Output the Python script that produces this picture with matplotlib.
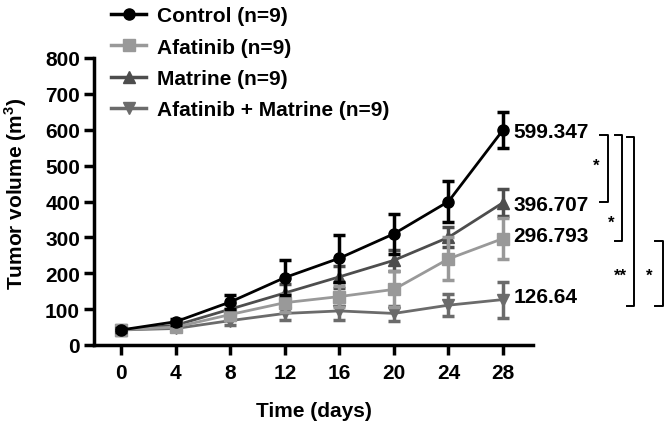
import matplotlib
matplotlib.use('Agg')
import matplotlib.pyplot as plt
import numpy as np

plt.rcParams['font.family'] = ['Liberation Sans', 'DejaVu Sans']
plt.rcParams['font.weight'] = 'bold'
plt.rcParams['mathtext.fontset'] = 'custom'
plt.rcParams['mathtext.bf'] = 'Liberation Sans:bold'
plt.rcParams['mathtext.rm'] = 'Liberation Sans:bold'

# data
days = [0, 4, 8, 12, 16, 20, 24, 28]

control = [42, 65, 120, 188, 242, 310, 400, 599.347]
control_err = [5, 8, 20, 50, 65, 55, 57, 50]

afatinib = [42, 50, 85, 118, 135, 155, 240, 296.793]
afatinib_err = [5, 6, 15, 25, 30, 50, 60, 58]

matrine = [42, 55, 100, 145, 190, 236, 300, 396.707]
matrine_err = [5, 6, 15, 25, 30, 30, 28, 38]

combo = [42, 46, 68, 88, 95, 88, 111, 126.64]
combo_err = [5, 6, 12, 18, 25, 22, 30, 50]

labels = ['Control (n=9)', 'Afatinib (n=9)', 'Matrine (n=9)', 'Afatinib + Matrine (n=9)']
colors = ['#000000', '#999999', '#4d4d4d', '#6b6b6b']
markers = ['o', 's', '^', 'v']

end_labels = ['599.347', '396.707', '296.793', '126.64']
end_label_y = [596, 393, 304, 136]

# brackets: (x of vertical in days, tick length, y top, y bottom)
brackets = [(35.7, 0.6, 585, 400), (36.7, 0.5, 585, 290), (37.6, 0.5, 579, 109), (39.7, 0.55, 290, 109)]
stars = [('*', 34.85, 500), ('*', 35.96, 342), ('**', 36.6, 195), ('*', 38.75, 195)]

fig = plt.figure(figsize=(6.7, 4.27), dpi=100)
ax = fig.add_axes([94 / 670, 1 - 346 / 427, (533 - 94) / 670, (346 - 59) / 427])

series = [control, afatinib, matrine, combo]
errs = [control_err, afatinib_err, matrine_err, combo_err]

for i in range(len(series)):
    ax.errorbar(days, series[i], yerr=errs[i], color=colors[i], marker=markers[i],
                markersize=8, linewidth=2, elinewidth=2.5, capsize=4, capthick=2.5,
                zorder=10 - i, clip_on=False, label=labels[i])

# end values
for txt, yv in zip(end_labels, end_label_y):
    ax.text(28.75, yv, txt, fontsize=15, fontweight='bold', va='center', ha='left', clip_on=False)

# significance brackets
for xv, tl, y1, y2 in brackets:
    ax.plot([xv - tl, xv, xv, xv - tl], [y1, y1, y2, y2], color='black', linewidth=1.4, clip_on=False)
for s, xv, yv in stars:
    ax.text(xv, yv, s, fontsize=12, fontweight='bold', ha='center', va='center', clip_on=False)

ax.set_xlim(-2, 30.2)
ax.set_ylim(0, 800)
ax.set_xticks(days)
ax.set_yticks(np.arange(0, 801, 100))
ax.spines['top'].set_visible(False)
ax.spines['right'].set_visible(False)
ax.spines['left'].set_linewidth(2.5)
ax.spines['bottom'].set_linewidth(2.5)
ax.tick_params(axis='both', width=2.5, length=7, labelsize=15, pad=3)
ax.tick_params(axis='x', pad=6)
for lab in ax.get_xticklabels() + ax.get_yticklabels():
    lab.set_fontweight('bold')

ax.set_xlabel('Time (days)', fontsize=15, fontweight='bold', labelpad=14)
ax.set_ylabel(r'Tumor volume (m$^{\mathbf{3}}$)', fontsize=15, fontweight='bold')
ax.yaxis.set_label_coords(-0.148, 0.53)

# legend only lines + markers, no error bars
leg_handles = [plt.Line2D([], [], color=colors[i], marker=markers[i], markersize=8, linewidth=2.5)
               for i in range(4)]
fig.legend(leg_handles, labels, loc='upper left', bbox_to_anchor=(111 / 670, 1 - 7 / 427),
           frameon=False, handlelength=1.7, handletextpad=0.5,
           labelspacing=0.6, borderpad=0, borderaxespad=0,
           prop={'weight': 'bold', 'size': 15})

plt.savefig('out.png', dpi=100)
